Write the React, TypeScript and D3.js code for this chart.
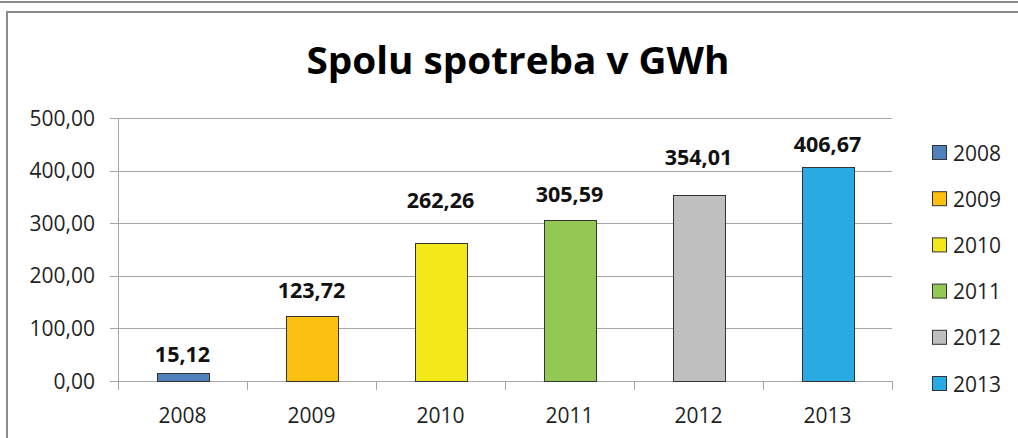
import React, { useEffect } from "react";
import * as d3 from "d3";

const title = "Spolu spotreba v GWh";
const categories = ["2008", "2009", "2010", "2011", "2012", "2013"];
const values = [15.12, 123.72, 262.26, 305.59, 354.01, 406.67];
const yTicks = [0, 100, 200, 300, 400, 500];
const colors = ["#4F81BD", "#FCC010", "#F3E81A", "#92C853", "#BFBFBF", "#29AAE1"];
// label lift above bar top (px), as placed in the original
const labelLift = [11, 18, 35, 18, 30, 15];

const W = 1018;
const H = 438;
const plot = { left: 118, right: 892, top: 118, bottom: 381 };
const FONT = "'Open Sans', 'DejaVu Sans', sans-serif";
const fmt = (v: number) => v.toFixed(2).replace(".", ",");

export default function App() {
  useEffect(() => {
    document.body.style.margin = "0";
  }, []);

  const x = d3.scaleBand<string>().domain(categories).range([plot.left, plot.right]).paddingInner(0.6).paddingOuter(0.3);
  const xOuter = d3.scaleBand<string>().domain(categories).range([plot.left, plot.right]);
  const y = d3.scaleLinear().domain([0, 500]).range([plot.bottom, plot.top]);
  const textColor = "#1F1F1F";
  const gridColor = "#A6A6A6";

  return (
    <svg width={W} height={H} style={{ display: "block", background: "#fff" }} fontFamily={FONT}>
      {/* frames */}
      <line x1={0} x2={W} y1={2} y2={2} stroke="#8C8C8C" strokeWidth={2} />
      <path d={`M7,${H + 5} V12 H${W + 5}`} fill="none" stroke="#8C8C8C" strokeWidth={2} />

      <text x={518} y={74} textAnchor="middle" fontSize={38} fontWeight="bold" fill="#000" textLength={423} lengthAdjust="spacingAndGlyphs">
        {title}
      </text>

      {/* grid + y ticks */}
      {yTicks.map((t) => (
        <g key={t}>
          <line x1={plot.left - 8} x2={plot.right} y1={Math.round(y(t)) + 0.5} y2={Math.round(y(t)) + 0.5} stroke={gridColor} strokeWidth={1} />
          <text x={95} y={y(t) + 7.5} textAnchor="end" fontSize={21} fill={textColor}>
            {fmt(t)}
          </text>
        </g>
      ))}
      {/* y axis */}
      <line x1={plot.left + 0.5} x2={plot.left + 0.5} y1={plot.top} y2={plot.bottom} stroke={gridColor} />
      {/* x ticks */}
      {categories.map((c) => (
        <line key={"t" + c} x1={Math.round(xOuter(c)!) + 0.5} x2={Math.round(xOuter(c)!) + 0.5} y1={plot.bottom} y2={plot.bottom + 9} stroke={gridColor} />
      ))}
      <line x1={plot.right + 0.5} x2={plot.right + 0.5} y1={plot.bottom} y2={plot.bottom + 9} stroke={gridColor} />

      {/* bars */}
      {categories.map((c, i) => (
        <g key={c}>
          <rect x={Math.round(x(c)!) + 0.5} y={Math.round(y(values[i])) + 0.5} width={Math.round(x.bandwidth())} height={Math.round(y(0) - y(values[i]))} fill={colors[i]} stroke="#333" strokeWidth={1} />
          <text x={x(c)! + x.bandwidth() / 2} y={y(values[i]) - labelLift[i]} textAnchor="middle" fontSize={21.5} fontWeight="bold" fill="#111">
            {fmt(values[i])}
          </text>
          <text x={xOuter(c)! + xOuter.bandwidth() / 2} y={423} textAnchor="middle" fontSize={21} fill={textColor}>
            {c}
          </text>
        </g>
      ))}

      {/* legend */}
      {categories.map((c, i) => {
        const cy = 153 + i * 46.2;
        return (
          <g key={"l" + c}>
            <rect x={932.5} y={cy - 7.5} width={14} height={14} fill={colors[i]} stroke="#333" strokeWidth={1} />
            <text x={953} y={cy + 7.5} fontSize={21} fill={textColor}>
              {c}
            </text>
          </g>
        );
      })}
    </svg>
  );
}
